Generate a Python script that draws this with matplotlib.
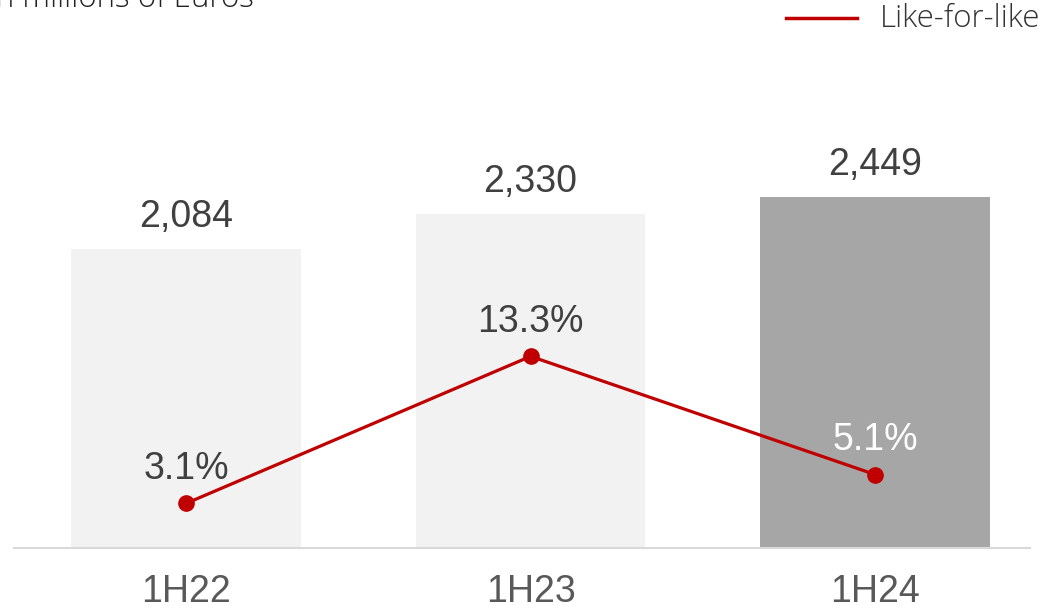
import matplotlib
matplotlib.use("Agg")
import matplotlib.pyplot as plt
from matplotlib.lines import Line2D

categories = ["1H22", "1H23", "1H24"]
sales = [2084, 2330, 2449]
sales_labels = ["2,084", "2,330", "2,449"]
lfl = [3.1, 13.3, 5.1]
lfl_labels = ["3.1%", "13.3%", "5.1%"]
bar_colors = ["#F2F2F2", "#F2F2F2", "#A6A6A6"]
lfl_label_colors = ["#404040", "#404040", "#FFFFFF"]

W, H = 1045, 608
fig = plt.figure(figsize=(W / 100, H / 100), dpi=100)
ax_left, ax_right, ax_bottom_px, ax_top_px = 14, 1030, 548, 0
ax = fig.add_axes([ax_left / W, (H - ax_bottom_px) / H, (ax_right - ax_left) / W,
                   (ax_bottom_px - ax_top_px) / H])
x = list(range(len(categories)))
ax.bar(x, sales, width=0.667, color=bar_colors, zorder=1)
ax.set_xlim(-0.5, 2.45)
ax.set_ylim(0, 548 / 0.1433)
for s in ["top", "right", "left"]:
    ax.spines[s].set_visible(False)
ax.spines["bottom"].set_color("#D9D9D9")
ax.spines["bottom"].set_linewidth(1.5)
ax.set_yticks([])
ax.set_xticks(x)
ax.set_xticklabels(categories, fontsize=27, color="#595959", family="Liberation Sans")
ax.tick_params(axis="x", length=0, pad=19)
for xi, v, lab in zip(x, sales, sales_labels):
    ax.annotate(lab, (xi, v), xytext=(0, 23), textcoords="offset points",
                ha="center", va="center", fontsize=27, color="#404040",
                family="Liberation Sans")

ax2 = ax.twinx()
ax2.set_ylim(0, 548 / 14.41)
ax2.axis("off")
ax2.plot(x, lfl, color="#C00000", lw=2.3, marker="o", markersize=11, zorder=3)
for xi, v, lab, c in zip(x, lfl, lfl_labels, lfl_label_colors):
    ax2.annotate(lab, (xi, v), xytext=(0, 25), textcoords="offset points",
                 ha="center", va="center", fontsize=27, color=c,
                 family="Liberation Sans")

# legend
fig.add_artist(Line2D([786 / W, 857 / W], [1 - 18 / H, 1 - 18 / H],
                      color="#C00000", lw=2.5, transform=fig.transFigure))
fig.text(880 / W, 1 - 19 / H, "Like-for-like", ha="left", va="center",
         fontsize=22.5, color="#333333", family="Open Sans", fontweight=300)
fig.text(-12 / W, 1 - 7 / H, "In millions of Euros", ha="left", va="baseline",
         fontsize=22.5, color="#222222", family="Open Sans", fontweight=300)

fig.savefig("out.png", dpi=100)
